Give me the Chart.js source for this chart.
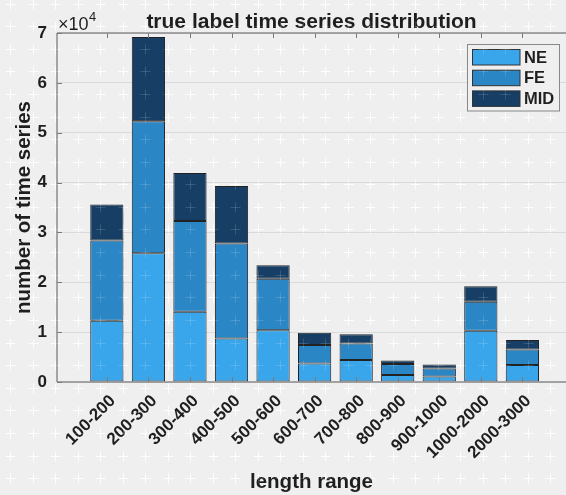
<!DOCTYPE html>
<html>
<head>
<meta charset="utf-8">
<script src="https://cdn.jsdelivr.net/npm/chart.js@4/dist/chart.umd.min.js"></script>
<style>
  html, body { margin: 0; padding: 0; background: #efefef; }
  #wrap { width: 566px; height: 495px; }
</style>
</head>
<body>
<div id="wrap"><canvas id="c" width="566" height="495"></canvas></div>
<script>
// ---- data (counts) ----
const categories = ['100-200','200-300','300-400','400-500','500-600','600-700','700-800','800-900','900-1000','1000-2000','2000-3000'];
const seriesNames = ['NE','FE','MID'];
const neValues  = [12300, 25800, 14100,  8750, 10400, 3700, 4400, 1400, 1100, 10300, 3400];
const feValues  = [16100, 26500, 18200, 19050, 10300, 3700, 3300, 2200, 1600,  5800, 3100];
const midValues = [ 7200, 16900,  9600, 11500,  2700, 2500, 1900,  700,  800,  3100, 1900];
const yTickValues = [0, 10000, 20000, 30000, 40000, 50000, 60000, 70000];

const colors = ['#39a6ec', '#2b86c6', '#173f66'];
const FONT = "'Liberation Sans', Arial, Helvetica, sans-serif";
const TEXT = '#1e1e1e';

function toPoints(arr) { return arr.map((v, i) => ({ x: i + 1, y: v })); }

function drawPluses(chart, style) {
  const ctx = chart.ctx;
  ctx.save();
  ctx.strokeStyle = style;
  ctx.lineWidth = 1;
  ctx.beginPath();
  for (let y = 3.5; y < chart.height + 10; y += 22.6) {
    for (let x = 10; x < chart.width + 10; x += 22.5) {
      const cx = Math.round(x) + 0.5, cy = Math.round(y) + 0.5;
      ctx.moveTo(cx - 5, cy); ctx.lineTo(cx + 5, cy);
      ctx.moveTo(cx, cy - 5); ctx.lineTo(cx, cy + 5);
    }
  }
  ctx.stroke();
  ctx.restore();
}

const bgPlugin = {
  id: 'bg',
  beforeDraw(chart) {
    const ctx = chart.ctx;
    ctx.save();
    ctx.fillStyle = '#efefef';
    ctx.fillRect(0, 0, chart.width, chart.height);
    ctx.restore();
    drawPluses(chart, 'rgba(255,255,255,0.85)');
  },
  afterDraw(chart) {
    drawPluses(chart, 'rgba(255,255,255,0.14)');
  }
};

const axesPlugin = {
  id: 'axesBox',
  afterDatasetsDraw(chart) {
    const { ctx, chartArea: a, scales } = chart;
    ctx.save();
    ctx.strokeStyle = '#8c8c8c';
    ctx.lineWidth = 1.5;
    ctx.beginPath();
    ctx.moveTo(a.left, a.top); ctx.lineTo(a.right, a.top);
    ctx.moveTo(a.left, a.top); ctx.lineTo(a.left, a.bottom);
    ctx.moveTo(a.left, a.bottom); ctx.lineTo(a.right, a.bottom);
    ctx.stroke();
    ctx.lineWidth = 1;
    ctx.strokeStyle = '#7a7a7a';
    ctx.beginPath();
    categories.forEach((_, i) => {
      const px = Math.round(scales.x.getPixelForValue(i + 1)) + 0.5;
      ctx.moveTo(px, a.top); ctx.lineTo(px, a.top + 5);
      ctx.moveTo(px, a.bottom); ctx.lineTo(px, a.bottom - 5);
    });
    yTickValues.forEach(v => {
      const py = Math.round(scales.y.getPixelForValue(v)) + 0.5;
      ctx.moveTo(a.left, py); ctx.lineTo(a.left + 5, py);
    });
    ctx.stroke();
    // exponent label
    ctx.fillStyle = TEXT;
    ctx.textBaseline = 'alphabetic';
    ctx.textAlign = 'left';
    ctx.font = '18px ' + FONT;
    ctx.fillText('\u00d710', a.left + 1, a.top - 3);
    const w = ctx.measureText('\u00d710').width;
    ctx.font = '13px ' + FONT;
    ctx.fillText('4', a.left + 1 + w + 0.5, a.top - 12);
    ctx.restore();
  }
};

const legendPlugin = {
  id: 'customLegend',
  afterDatasetsDraw(chart) {
    const ctx = chart.ctx;
    const x0 = 467.5, y0 = 44.5, w = 92, h = 66.5;
    ctx.save();
    ctx.fillStyle = '#efefef';
    ctx.fillRect(x0, y0, w, h);
    ctx.strokeStyle = '#888888';
    ctx.lineWidth = 1;
    ctx.strokeRect(x0, y0, w, h);
    ctx.font = 'bold 16.5px ' + FONT;
    ctx.textBaseline = 'middle';
    ctx.textAlign = 'left';
    chart.data.datasets.forEach((ds, i) => {
      const sy = 49.5 + i * 20.7;
      ctx.fillStyle = ds.backgroundColor;
      ctx.fillRect(472.5, sy, 47.5, 15.5);
      ctx.strokeStyle = '#333333';
      ctx.strokeRect(472.5, sy, 47.5, 15.5);
      ctx.fillStyle = TEXT;
      ctx.fillText(ds.label, 524, sy + 8.5);
    });
    ctx.restore();
  }
};

const valueSets = [neValues, feValues, midValues];

new Chart(document.getElementById('c'), {
  type: 'bar',
  data: {
    datasets: seriesNames.map((name, k) => ({
      label: name,
      data: toPoints(valueSets[k]),
      backgroundColor: colors[k],
      borderColor: '#222222',
      borderWidth: 1,
      borderSkipped: false,
      barPercentage: 0.8,
      categoryPercentage: 1.0
    }))
  },
  options: {
    responsive: false,
    animation: false,
    devicePixelRatio: 1,
    layout: { padding: { top: 0, left: 0, right: 0, bottom: 0 } },
    plugins: {
      legend: { display: false },
      tooltip: { enabled: false },
      title: {
        display: true,
        fullSize: false,
        text: 'true label time series distribution',
        color: TEXT,
        font: { family: FONT, size: 21, weight: 'bold', lineHeight: 1.0 },
        padding: { top: 12, bottom: 0 }
      }
    },
    scales: {
      x: {
        type: 'linear',
        stacked: true,
        min: -0.2,
        max: 12.05,
        offset: false,
        grid: { display: false, drawTicks: false },
        border: { display: false },
        afterBuildTicks(axis) { axis.ticks = categories.map((_, i) => ({ value: i + 1 })); },
        afterFit(axis) { axis.height = 113; },
        ticks: {
          autoSkip: false,
          minRotation: 45,
          maxRotation: 45,
          padding: 9,
          labelOffset: 6,
          color: TEXT,
          font: { family: FONT, size: 17, weight: 'bold' },
          callback: (v) => categories[Math.round(v) - 1] ?? ''
        },
        title: {
          display: true,
          text: 'length range',
          color: TEXT,
          font: { family: FONT, size: 20.5, weight: 'bold' },
          padding: { top: 0, bottom: 0 }
        }
      },
      y: {
        stacked: true,
        min: 0,
        max: 70000,
        grid: { color: '#dadada', lineWidth: 1, drawTicks: false },
        border: { display: false },
        afterBuildTicks(axis) { axis.ticks = yTickValues.map(v => ({ value: v })); },
        afterFit(axis) { axis.width = 57; },
        ticks: {
          padding: 10,
          color: TEXT,
          font: { family: FONT, size: 17, weight: 'bold' },
          callback: (v) => String(v / 10000)
        },
        title: {
          display: true,
          text: 'number of time series',
          color: TEXT,
          font: { family: FONT, size: 20.5, weight: 'bold' },
          padding: { top: 12.5, bottom: 0 }
        }
      }
    }
  },
  plugins: [bgPlugin, axesPlugin, legendPlugin]
});
</script>
</body>
</html>
